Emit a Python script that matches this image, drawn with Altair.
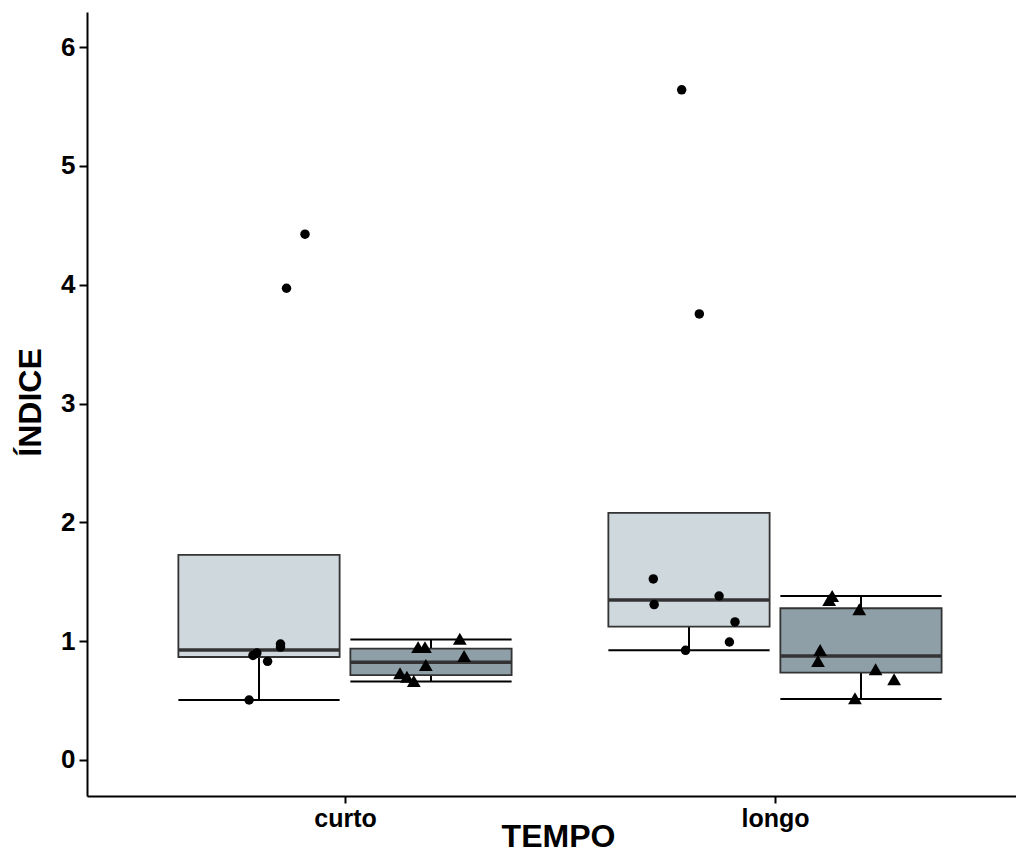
import altair as alt
import pandas as pd

# categories
tempo = ["curto", "longo"]
grupo = ["A", "B"]

# box statistics, order: curto-A, curto-B, longo-A, longo-B
box_tempo = ["curto", "curto", "longo", "longo"]
box_grupo = ["A", "B", "A", "B"]
box_lower = [0.505, 0.660, 0.923, 0.513]
box_q1 = [0.867, 0.715, 1.122, 0.735]
box_median = [0.926, 0.822, 1.347, 0.875]
box_q3 = [1.727, 0.937, 2.079, 1.277]
box_upper = [0.980, 1.014, 1.524, 1.380]

# jittered points (x in axis units, y = ÍNDICE)
circ_x = [0.907, 0.864, 0.850, 0.850, 0.795, 0.786, 0.820, 0.777,
          1.717, 1.719, 1.870, 1.907, 1.894, 1.792, 1.783, 1.824]
circ_y = [4.425, 3.970, 0.976, 0.950, 0.900, 0.880, 0.830, 0.505,
          1.524, 1.308, 1.380, 1.162, 0.993, 0.923, 5.640, 3.754]
tri_x = [1.170, 1.186, 1.267, 1.277, 1.188, 1.128, 1.144, 1.160,
         2.133, 2.126, 2.196, 2.105, 2.100, 2.234, 2.277, 2.186]
tri_y = [0.950, 0.950, 1.020, 0.875, 0.800, 0.730, 0.700, 0.665,
         1.380, 1.347, 1.268, 0.926, 0.833, 0.763, 0.680, 0.519]

dodge = {"A": -0.2, "B": 0.2}
half_w = 0.1875

boxes = pd.DataFrame({
    "tempo": box_tempo, "grupo": box_grupo,
    "lower": box_lower, "q1": box_q1, "median": box_median,
    "q3": box_q3, "upper": box_upper,
})
boxes["xc"] = [tempo.index(t) + 1 + dodge[g] for t, g in zip(box_tempo, box_grupo)]
boxes["xl"] = boxes["xc"] - half_w
boxes["xr"] = boxes["xc"] + half_w

circles = pd.DataFrame({"x": circ_x, "y": circ_y})
triangles = pd.DataFrame({"x": tri_x, "y": tri_y})

FONT = "Liberation Sans"

xscale = alt.Scale(domain=[0.4, 2.5605], nice=False, zero=False)
yscale = alt.Scale(domain=[-0.303, 6.295], nice=False, zero=False)

label_expr = "[" + ",".join("'" + t + "'" for t in tempo) + "][datum.value - 1]"

xaxis = alt.Axis(
    title="TEMPO", values=[1, 2], labelExpr=label_expr, grid=False,
    domainColor="black", domainWidth=2, tickColor="black", tickWidth=2, tickSize=7,
    labelFont=FONT, labelFontSize=25, labelFontWeight="bold", labelColor="black",
    labelPadding=3, labelFlush=False,
    titleFont=FONT, titleFontSize=32, titleFontWeight="bold", titleColor="black",
    titleX=471, titleY=50, titleBaseline="alphabetic", titleAlign="center",
)
yaxis = alt.Axis(
    title="ÍNDICE", values=[0, 1, 2, 3, 4, 5, 6], grid=False, format="d",
    domainColor="black", domainWidth=2, tickColor="black", tickWidth=2, tickSize=8,
    labelFont=FONT, labelFontSize=26, labelFontWeight="bold", labelColor="black",
    labelPadding=4, labelFlush=False,
    titleFont=FONT, titleFontSize=32, titleFontWeight="bold", titleColor="black",
    titleX=-57, titleY=390, titleAngle=270, titleBaseline="middle", titleAlign="center",
)

base = alt.Chart(boxes)

whisk_v = base.mark_rule(color="black", strokeWidth=2).encode(
    x=alt.X("xc:Q", scale=xscale, axis=xaxis),
    y=alt.Y("lower:Q", scale=yscale, axis=yaxis),
    y2="upper:Q",
)
cap_low = base.mark_rule(color="black", strokeWidth=2).encode(
    x=alt.X("xl:Q", scale=xscale), x2="xr:Q", y=alt.Y("lower:Q", scale=yscale)
)
cap_up = base.mark_rule(color="black", strokeWidth=2).encode(
    x=alt.X("xl:Q", scale=xscale), x2="xr:Q", y=alt.Y("upper:Q", scale=yscale)
)
box = base.mark_rect(stroke="#333333", strokeWidth=1.8).encode(
    x=alt.X("xl:Q", scale=xscale), x2="xr:Q",
    y=alt.Y("q1:Q", scale=yscale), y2="q3:Q",
    fill=alt.Fill("grupo:N", scale=alt.Scale(domain=grupo, range=["#CFD8DD", "#8E9FA8"]), legend=None),
)
med = base.mark_rule(color="#333333", strokeWidth=3.5).encode(
    x=alt.X("xl:Q", scale=xscale), x2="xr:Q", y=alt.Y("median:Q", scale=yscale)
)
pts_c = alt.Chart(circles).mark_point(shape="circle", filled=True, color="black", size=90, opacity=1).encode(
    x=alt.X("x:Q", scale=xscale), y=alt.Y("y:Q", scale=yscale)
)
pts_t = alt.Chart(triangles).mark_point(shape="triangle-up", filled=True, color="black", size=190, opacity=1).encode(
    x=alt.X("x:Q", scale=xscale), y=alt.Y("y:Q", scale=yscale)
)

chart = alt.layer(whisk_v, cap_low, cap_up, box, med, pts_c, pts_t).properties(
    width=929, height=784,
    background="white",
    autosize=alt.AutoSizeParams(type="none"),
    padding={"left": 79, "top": 4, "right": 0, "bottom": 58},
).configure_view(strokeOpacity=0, strokeWidth=0)

chart.save("out.html", embed_options={"renderer": "svg", "actions": False})
